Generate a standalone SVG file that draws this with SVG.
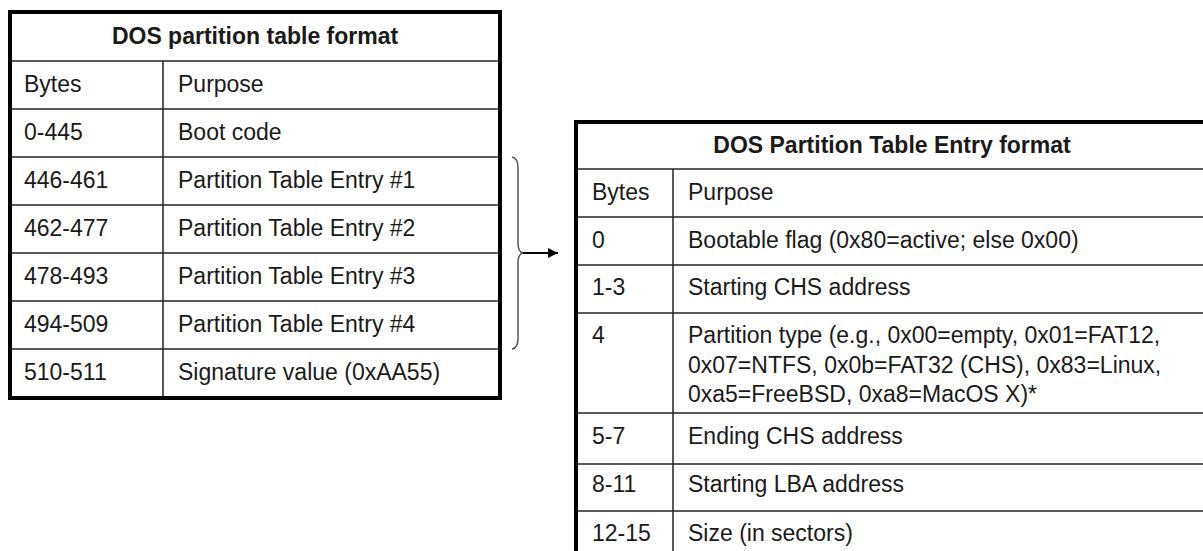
<svg xmlns="http://www.w3.org/2000/svg" width="1203" height="551" viewBox="0 0 1203 551">
<style>
.t{font-family:"Liberation Sans",Arial,sans-serif;font-size:23px;fill:#1a1a1a}
.b{font-weight:bold}
.frame{fill:none;stroke:#000;stroke-width:4}
.grid{stroke:#222;stroke-width:1.5;fill:none}
.brace{fill:none;stroke:#555;stroke-width:1.5}
</style>
<defs>
<marker id="ah" viewBox="0 0 10 10" refX="10" refY="5" markerWidth="12" markerHeight="10" markerUnits="userSpaceOnUse" orient="auto">
<path d="M0,0 L10,5 L0,10 Z" fill="#000"/>
</marker>
</defs>
<rect width="1203" height="551" fill="#fff"/>

<g id="table-dos-partition">
<g class="grid">
<line x1="10" y1="61" x2="500" y2="61"/>
<line x1="10" y1="109" x2="500" y2="109"/>
<line x1="10" y1="157" x2="500" y2="157"/>
<line x1="10" y1="205" x2="500" y2="205"/>
<line x1="10" y1="253" x2="500" y2="253"/>
<line x1="10" y1="301" x2="500" y2="301"/>
<line x1="10" y1="349" x2="500" y2="349"/>
<line x1="163" y1="61" x2="163" y2="398"/>
</g>
<rect class="frame" x="10" y="12" width="490" height="386"/>
<text class="t b" x="255" y="44" text-anchor="middle">DOS partition table format</text>
<text class="t" x="24" y="92">Bytes</text><text class="t" x="178" y="92">Purpose</text>
<text class="t" x="24" y="140">0-445</text><text class="t" x="178" y="140">Boot code</text>
<text class="t" x="24" y="188">446-461</text><text class="t" x="178" y="188">Partition Table Entry #1</text>
<text class="t" x="24" y="236">462-477</text><text class="t" x="178" y="236">Partition Table Entry #2</text>
<text class="t" x="24" y="284">478-493</text><text class="t" x="178" y="284">Partition Table Entry #3</text>
<text class="t" x="24" y="332">494-509</text><text class="t" x="178" y="332">Partition Table Entry #4</text>
<text class="t" x="24" y="380">510-511</text><text class="t" x="178" y="380">Signature value (0xAA55)</text>
</g>

<g id="table-partition-entry">
<g class="grid">
<line x1="576" y1="169" x2="1209" y2="169"/>
<line x1="576" y1="217" x2="1209" y2="217"/>
<line x1="576" y1="265" x2="1209" y2="265"/>
<line x1="576" y1="313" x2="1209" y2="313"/>
<line x1="576" y1="413" x2="1209" y2="413"/>
<line x1="576" y1="464" x2="1209" y2="464"/>
<line x1="576" y1="511" x2="1209" y2="511"/>
<line x1="673" y1="169" x2="673" y2="559"/>
</g>
<rect class="frame" x="576" y="122" width="633" height="437"/>
<text class="t b" x="892" y="153" text-anchor="middle">DOS Partition Table Entry format</text>
<text class="t" x="592" y="200">Bytes</text><text class="t" x="688" y="200">Purpose</text>
<text class="t" x="592" y="248">0</text><text class="t" x="688" y="248">Bootable flag (0x80=active; else 0x00)</text>
<text class="t" x="592" y="295">1-3</text><text class="t" x="688" y="295">Starting CHS address</text>
<text class="t" x="592" y="343">4</text>
<text class="t" x="688" y="343">Partition type (e.g., 0x00=empty, 0x01=FAT12,</text>
<text class="t" x="688" y="373">0x07=NTFS, 0x0b=FAT32 (CHS), 0x83=Linux,</text>
<text class="t" x="688" y="402">0xa5=FreeBSD, 0xa8=MacOS X)*</text>
<text class="t" x="592" y="444">5-7</text><text class="t" x="688" y="444">Ending CHS address</text>
<text class="t" x="592" y="492">8-11</text><text class="t" x="688" y="492">Starting LBA address</text>
<text class="t" x="592" y="541">12-15</text><text class="t" x="688" y="541">Size (in sectors)</text>
</g>

<g id="connectors">
<path class="brace" d="M512,157 Q518,158 518,168 L518,243 Q518,252 523,253 Q518,254 518,263 L518,338 Q518,348 512,349"/>
<line x1="523" y1="253" x2="558" y2="253" stroke="#000" stroke-width="1.8" marker-end="url(#ah)"/>
</g>
</svg>
